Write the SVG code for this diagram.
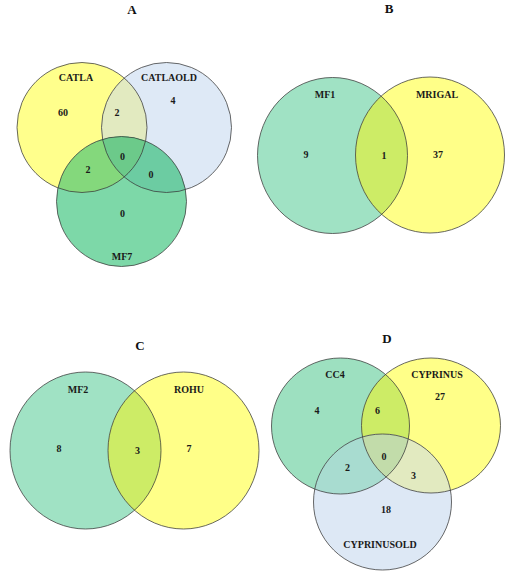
<svg xmlns="http://www.w3.org/2000/svg" width="508" height="580" viewBox="0 0 508 580">
<style>
.o{fill:none;stroke:#3a3a3a;stroke-width:0.9;stroke-opacity:0.85}
.t{font-family:"Liberation Serif","Times New Roman",serif;font-weight:bold;font-size:10px;fill:#1a1a1a;text-anchor:middle}
.h{font-family:"Liberation Serif","Times New Roman",serif;font-weight:bold;font-size:13px;fill:#111;text-anchor:middle}
</style>
<defs>
<clipPath id="cA1"><circle cx="82" cy="127.5" r="65"/></clipPath>
<clipPath id="cA2"><circle cx="166.5" cy="127.5" r="65"/></clipPath>
<clipPath id="cA3"><circle cx="121.5" cy="201.5" r="65"/></clipPath>
<clipPath id="cB1"><ellipse cx="332.5" cy="155.5" rx="75" ry="78"/></clipPath>
<clipPath id="cC1"><ellipse cx="85.5" cy="450.5" rx="75.5" ry="78.5"/></clipPath>
<clipPath id="cD1"><ellipse cx="340.5" cy="426" rx="69" ry="68"/></clipPath>
<clipPath id="cD2"><ellipse cx="431" cy="425.5" rx="69.5" ry="67.5"/></clipPath>
<clipPath id="cD3"><ellipse cx="382.5" cy="502" rx="69" ry="68"/></clipPath>
</defs>

<!-- Panel A -->
<g id="panelA">
<text class="h" x="132" y="14">A</text>
<g id="A-CATLA">
<circle cx="82" cy="127.5" r="65" fill="#ffff8c"/>
</g>
<g id="A-CATLAOLD">
<circle cx="166.5" cy="127.5" r="65" fill="#dee9f6"/>
</g>
<g clip-path="url(#cA1)"><circle cx="166.5" cy="127.5" r="65" fill="#e2eac0"/></g>
<g id="A-MF7">
<circle cx="121.5" cy="201.5" r="65" fill="#7dd8a8"/>
</g>
<g clip-path="url(#cA1)"><circle cx="121.5" cy="201.5" r="65" fill="#84d87c"/></g>
<g clip-path="url(#cA2)"><circle cx="121.5" cy="201.5" r="65" fill="#6ccca2"/></g>
<g clip-path="url(#cA1)"><g clip-path="url(#cA2)"><circle cx="121.5" cy="201.5" r="65" fill="#6cca8a"/></g></g>
<circle class="o" cx="82" cy="127.5" r="65"/>
<circle class="o" cx="166.5" cy="127.5" r="65"/>
<circle class="o" cx="121.5" cy="201.5" r="65"/>
<text class="t" x="76" y="81">CATLA</text>
<text class="t" x="169" y="81">CATLAOLD</text>
<text class="t" x="122" y="260">MF7</text>
<text class="t" x="63" y="116">60</text>
<text class="t" x="117" y="116">2</text>
<text class="t" x="173" y="104">4</text>
<text class="t" x="122.5" y="160">0</text>
<text class="t" x="88" y="173">2</text>
<text class="t" x="151" y="178">0</text>
<text class="t" x="122.5" y="217">0</text>
</g>

<!-- Panel B -->
<g id="panelB">
<text class="h" x="389" y="13">B</text>
<g id="B-MF1"><ellipse cx="332.5" cy="155.5" rx="75" ry="78" fill="#a0e2c4"/></g>
<g id="B-MRIGAL"><ellipse cx="430" cy="155" rx="74.5" ry="78" fill="#ffff88"/></g>
<g clip-path="url(#cB1)"><ellipse cx="430" cy="155" rx="74.5" ry="78" fill="#cdec66"/></g>
<ellipse class="o" cx="332.5" cy="155.5" rx="75" ry="78"/>
<ellipse class="o" cx="430" cy="155" rx="74.5" ry="78"/>
<text class="t" x="325" y="98">MF1</text>
<text class="t" x="437" y="98">MRIGAL</text>
<text class="t" x="306" y="158">9</text>
<text class="t" x="384" y="159">1</text>
<text class="t" x="438" y="158">37</text>
</g>

<!-- Panel C -->
<g id="panelC">
<text class="h" x="140" y="350">C</text>
<g id="C-MF2"><ellipse cx="85.5" cy="450.5" rx="75.5" ry="78.5" fill="#a0e2c4"/></g>
<g id="C-ROHU"><ellipse cx="183.5" cy="450.5" rx="75.5" ry="78.5" fill="#ffff88"/></g>
<g clip-path="url(#cC1)"><ellipse cx="183.5" cy="450.5" rx="75.5" ry="78.5" fill="#cdec66"/></g>
<ellipse class="o" cx="85.5" cy="450.5" rx="75.5" ry="78.5"/>
<ellipse class="o" cx="183.5" cy="450.5" rx="75.5" ry="78.5"/>
<text class="t" x="78" y="393">MF2</text>
<text class="t" x="189" y="393">ROHU</text>
<text class="t" x="59" y="452">8</text>
<text class="t" x="137.5" y="454">3</text>
<text class="t" x="189" y="452">7</text>
</g>

<!-- Panel D -->
<g id="panelD">
<text class="h" x="387" y="343">D</text>
<g id="D-CC4"><ellipse cx="340.5" cy="426" rx="69" ry="68" fill="#9de0c0"/></g>
<g id="D-CYPRINUS"><ellipse cx="431" cy="425.5" rx="69.5" ry="67.5" fill="#ffff88"/></g>
<g clip-path="url(#cD1)"><ellipse cx="431" cy="425.5" rx="69.5" ry="67.5" fill="#cdec66"/></g>
<g id="D-CYPRINUSOLD"><ellipse cx="382.5" cy="502" rx="69" ry="68" fill="#dde8f5"/></g>
<g clip-path="url(#cD1)"><ellipse cx="382.5" cy="502" rx="69" ry="68" fill="#a8dcd0"/></g>
<g clip-path="url(#cD2)"><ellipse cx="382.5" cy="502" rx="69" ry="68" fill="#e2eac0"/></g>
<g clip-path="url(#cD1)"><g clip-path="url(#cD2)"><ellipse cx="382.5" cy="502" rx="69" ry="68" fill="#c2dcaa"/></g></g>
<ellipse class="o" cx="340.5" cy="426" rx="69" ry="68"/>
<ellipse class="o" cx="431" cy="425.5" rx="69.5" ry="67.5"/>
<ellipse class="o" cx="382.5" cy="502" rx="69" ry="68"/>
<text class="t" x="335" y="378">CC4</text>
<text class="t" x="437" y="378">CYPRINUS</text>
<text class="t" x="380" y="548">CYPRINUSOLD</text>
<text class="t" x="317" y="414">4</text>
<text class="t" x="377.5" y="414">6</text>
<text class="t" x="440" y="400">27</text>
<text class="t" x="384" y="460">0</text>
<text class="t" x="347.5" y="471">2</text>
<text class="t" x="413.5" y="479">3</text>
<text class="t" x="386" y="513">18</text>
</g>
</svg>
